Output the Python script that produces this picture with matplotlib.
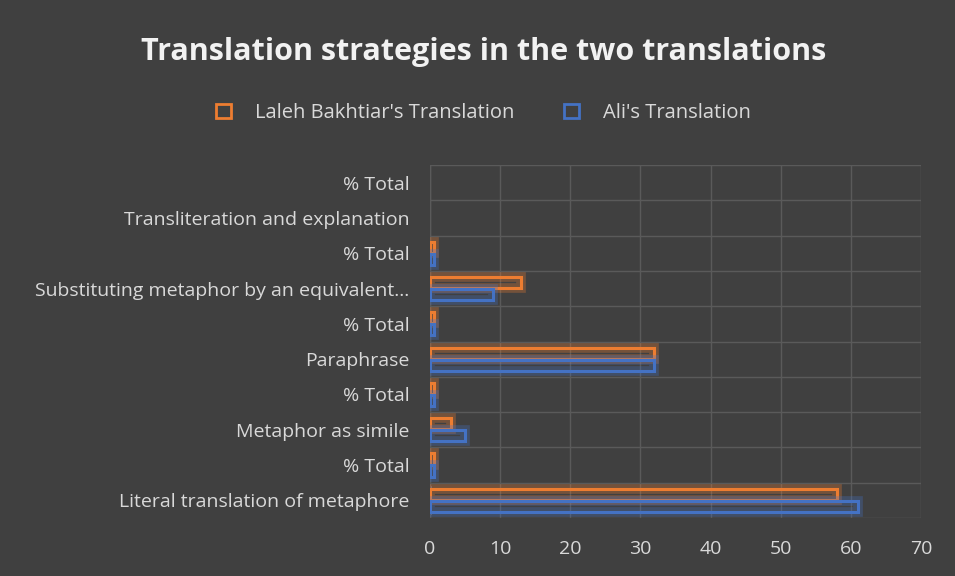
import numpy as np
import matplotlib.pyplot as plt
import matplotlib.patheffects as pe

categories = [
    "Literal translation of metaphore",
    "% Total",
    "Metaphor as simile",
    "% Total",
    "Paraphrase",
    "% Total",
    "Substituting metaphor by an equivalent...",
    "% Total",
    "Transliteration and explanation",
    "% Total",
]
laleh = [58, 0.6, 3, 0.5, 32, 0.6, 13, 0.6, 0, 0]
ali = [61, 0.6, 5, 0.6, 32, 0.6, 9, 0.5, 0, 0]
xticks = [0, 10, 20, 30, 40, 50, 60, 70]

bg = "#404040"
orange = "#ED7D31"
blue = "#4472C4"
txt = "#d9d9d9"

plt.rcParams['font.family'] = ['Open Sans', 'DejaVu Sans']

fig = plt.figure(figsize=(9.55, 5.76), dpi=100, facecolor=bg)
ax = fig.add_axes([430 / 955, 1 - 518 / 576, (921 - 430) / 955, (518 - 165) / 576])
ax.set_facecolor(bg)

y = np.arange(len(categories))
h = 0.32
glow = lambda c: [pe.Stroke(linewidth=7, foreground=c, alpha=0.3), pe.Normal()]

la = np.array(laleh, dtype=float)
al = np.array(ali, dtype=float)
ax.barh(y[la > 0] + 0.17, la[la > 0], height=h, facecolor="none", edgecolor=orange, linewidth=2.2,
        path_effects=glow(orange), zorder=3)
ax.barh(y[al > 0] - 0.17, al[al > 0], height=h, facecolor="none", edgecolor=blue, linewidth=2.2,
        path_effects=glow(blue), zorder=3)
# legend proxies without glow
ax.barh([0], [0], facecolor="none", edgecolor=orange, linewidth=2, label="Laleh Bakhtiar's Translation")
ax.barh([0], [0], facecolor="none", edgecolor=blue, linewidth=2, label="Ali's Translation")

ax.set_xlim(0, 70)
ax.set_ylim(-0.5, len(categories) - 0.5)
ax.set_xticks(xticks)
ax.set_yticks(y)
ax.set_yticklabels(categories)
ax.set_yticks(np.arange(-0.5, len(categories), 1), minor=True)
ax.tick_params(axis="both", which="both", length=0, colors=txt, labelsize=14)
ax.tick_params(axis="x", pad=16)
ax.tick_params(axis="y", pad=15)
ax.grid(True, axis="x", color="#5a5a5a", linewidth=1)
ax.grid(True, axis="y", which="minor", color="#5a5a5a", linewidth=1)
for s in ax.spines.values():
    s.set_visible(False)
ax.axvline(0, color="#5a5a5a", linewidth=1)

fig.text(0.5 + 6 / 955, 1 - 52 / 576, "Translation strategies in the two translations", ha="center",
         va="center", color="#f2f2f2", fontsize=22, fontweight="bold")
leg = fig.legend(loc="center", bbox_to_anchor=(0.5 + 6 / 955, 1 - 113 / 576), ncol=2, frameon=False,
                 fontsize=14.5, labelcolor=txt, handlelength=0.7, handleheight=0.7,
                 columnspacing=2.5, handletextpad=1.2)

fig.savefig("out.png", dpi=100, facecolor=bg)
